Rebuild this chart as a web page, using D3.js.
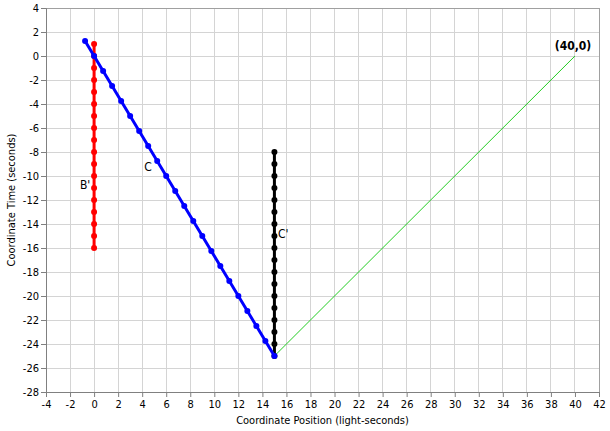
<!DOCTYPE html>
<html><head><meta charset="utf-8">
<script src="https://cdn.jsdelivr.net/npm/d3@7"></script>
<style>
html,body{margin:0;padding:0;background:#fff;}
svg{display:block;}
text{font-family:Tahoma,"DejaVu Sans Condensed","DejaVu Sans",sans-serif;}
</style></head>
<body>
<script>
// Data
const xTicks = d3.range(-4, 43, 2);
const yTicks = d3.range(-28, 5, 2);
const seriesB = { name: "B'", x: [0,0,0,0,0,0,0,0,0,0,0,0,0,0,0,0,0,0],
  t: [1,0,-1,-2,-3,-4,-5,-6,-7,-8,-9,-10,-11,-12,-13,-14,-15,-16] };
const seriesC = { name: "C",
  x: [-0.75,0,0.75,1.5,2.25,3,3.75,4.5,5.25,6,6.75,7.5,8.25,9,9.75,10.5,11.25,12,12.75,13.5,14.25,15],
  t: [1.25,0,-1.25,-2.5,-3.75,-5,-6.25,-7.5,-8.75,-10,-11.25,-12.5,-13.75,-15,-16.25,-17.5,-18.75,-20,-21.25,-22.5,-23.75,-25] };
const seriesCp = { name: "C'", x: [15,15,15,15,15,15,15,15,15,15,15,15,15,15,15,15,15,15],
  t: [-8,-9,-10,-11,-12,-13,-14,-15,-16,-17,-18,-19,-20,-21,-22,-23,-24,-25] };
const lightX = [15, 40];
const lightT = [-25, 0];
const labels = [
  {text: "B'", x: -0.75, t: -11.1, bold: false},
  {text: "C", x: 4.48, t: -9.58, bold: false},
  {text: "C'", x: 15.74, t: -15.17, bold: false},
  {text: "(40,0)", x: 39.84, t: 0.5, bold: true}
];

const W = 610, H = 431;
const m = {left: 46, right: 11, top: 8, bottom: 39};
const svg = d3.select("body").append("svg").attr("width", W).attr("height", H);
const x = d3.scaleLinear().domain([-4, 42]).range([m.left, W - m.right]);
const y = d3.scaleLinear().domain([-28, 4]).range([H - m.bottom, m.top]);
const fmt = d => String(d).replace("\u2212", "-");

// grid
const g = svg.append("g");
g.selectAll(".gx").data(xTicks).join("line")
  .attr("x1", d => x(d)).attr("x2", d => x(d)).attr("y1", y(4)).attr("y2", y(-28))
  .attr("stroke", "#d4d4d4").attr("stroke-width", 1).attr("shape-rendering", "crispEdges");
g.selectAll(".gy").data(yTicks).join("line")
  .attr("x1", x(-4)).attr("x2", x(42)).attr("y1", d => y(d)).attr("y2", d => y(d))
  .attr("stroke", "#d4d4d4").attr("stroke-width", 1).attr("shape-rendering", "crispEdges");
svg.append("rect").attr("x", x(-4)).attr("y", y(4)).attr("width", x(42) - x(-4)).attr("height", y(-28) - y(4))
  .attr("fill", "none").attr("stroke", "#a0a0a0").attr("shape-rendering", "crispEdges");

// axes
const xAxis = d3.axisBottom(x).tickValues(xTicks).tickFormat(fmt).tickSize(5).tickPadding(3);
const yAxis = d3.axisLeft(y).tickValues(yTicks).tickFormat(fmt).tickSize(5).tickPadding(2);
const gx = svg.append("g").attr("transform", `translate(0,${y(-28)})`).call(xAxis);
const gy = svg.append("g").attr("transform", `translate(${x(-4)},0)`).call(yAxis);
[gx, gy].forEach(a => {
  a.select(".domain").attr("stroke", "#808080");
  a.selectAll(".tick line").attr("stroke", "#808080");
  a.selectAll("text").attr("font-size", 11).attr("fill", "#000")
    .style("font-family", 'Tahoma,"DejaVu Sans Condensed","DejaVu Sans",sans-serif');
});

// axis titles
svg.append("text").attr("x", (x(-4) + x(42)) / 2).attr("y", 424).attr("text-anchor", "middle")
  .attr("font-size", 11).text("Coordinate Position (light-seconds)");
svg.append("text").attr("transform", `translate(15,${(y(4) + y(-28)) / 2}) rotate(-90)`)
  .attr("text-anchor", "middle").attr("font-size", 11).text("Coordinate Time (seconds)");

// series
const line = d3.line().x(d => x(d[0])).y(d => y(d[1]));
function drawSeries(s, color) {
  const pts = s.x.map((v, i) => [v, s.t[i]]);
  svg.append("path").datum(pts).attr("d", line).attr("fill", "none")
    .attr("stroke", color).attr("stroke-width", 3);
  svg.append("g").selectAll("circle").data(pts).join("circle")
    .attr("cx", d => x(d[0])).attr("cy", d => y(d[1])).attr("r", 3).attr("fill", color);
}
svg.append("path").datum(lightX.map((v, i) => [v, lightT[i]])).attr("d", line)
  .attr("fill", "none").attr("stroke", "#22cc22").attr("stroke-width", 1);
drawSeries(seriesB, "#ff0000");
drawSeries(seriesCp, "#000000");
drawSeries(seriesC, "#0000ff");

// labels
svg.append("g").selectAll("text").data(labels).join("text")
  .attr("x", d => x(d.x)).attr("y", d => y(d.t))
  .attr("text-anchor", "middle")
  .attr("font-size", 12).attr("font-weight", d => d.bold ? "bold" : "normal")
  .attr("fill", "#000").text(d => d.text);
</script>
</body></html>
